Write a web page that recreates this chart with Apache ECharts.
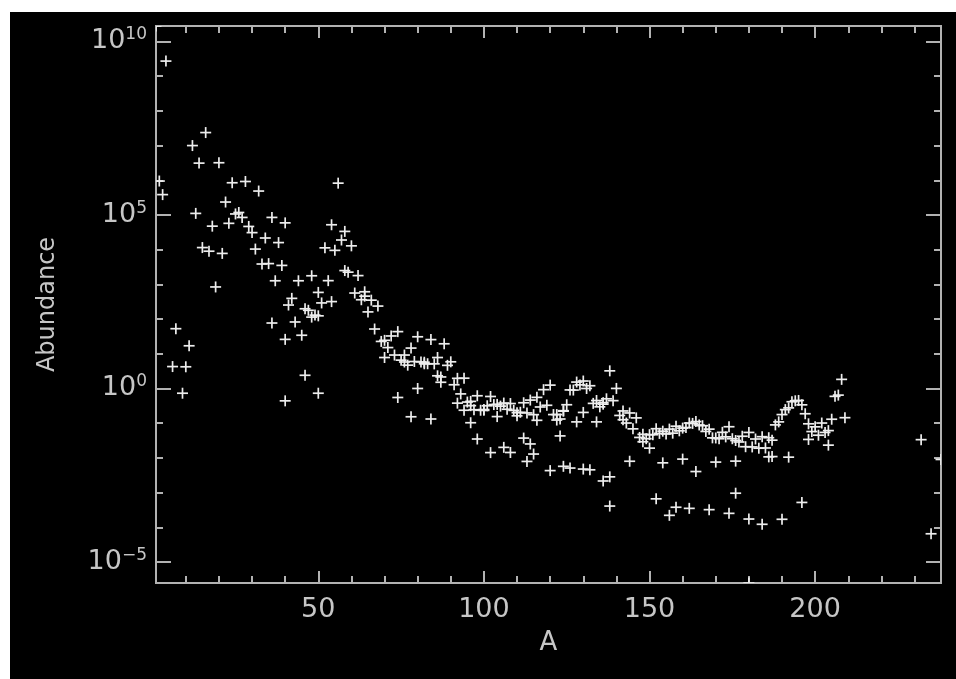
<!DOCTYPE html>
<html>
<head>
<meta charset="utf-8">
<title>Solar system isotopic abundances</title>
<script src="https://cdn.jsdelivr.net/npm/echarts@6/dist/echarts.min.js"></script>
<style>
  html, body { margin: 0; padding: 0; width: 956px; height: 679px; background: #ffffff; overflow: hidden; }
  #chart { position: absolute; left: 10px; top: 12px; width: 946px; height: 667px; background: #000000; }
</style>
</head>
<body>
<div id="chart"></div>
<script>
// Isotopic abundances (normalised to Si = 1e6) against mass number A.

// H .. Ni
const massLight = [
  1, 2, 3, 4, 6, 7, 9, 10, 11, 12, 13, 14, 15, 16, 17, 18, 19, 20, 21, 22,
  23, 24, 25, 26, 27, 28, 29, 30, 31, 32, 33, 34, 36, 35, 37, 36, 38, 40,
  39, 40, 41, 40, 42, 43, 44, 46, 48, 45, 46, 47, 48, 49, 50, 50, 51,
  50, 52, 53, 54, 55, 54, 56, 57, 58, 59, 58, 60, 61, 62, 64
];
const abundLight = [
  2.79e10, 9.5e5, 3.86e5, 2.72e9, 4.28, 52.8, 0.73, 4.22, 17.0, 1.0e7, 1.11e5, 3.12e6, 1.15e4, 2.37e7, 9.04e3, 4.76e4, 843, 3.2e6, 7.8e3, 2.36e5,
  5.74e4, 8.48e5, 1.07e5, 1.18e5, 8.49e4, 9.22e5, 4.67e4, 3.1e4, 1.04e4, 4.89e5, 3.86e3, 2.17e4, 77, 3.97e3, 1.27e3, 8.5e4, 1.6e4, 26,
  3.52e3, 0.44, 254, 5.92e4, 395, 82.5, 1.27e3, 2.4, 114, 34.2, 198, 179, 1.77e3, 130, 124, 0.73, 292,
  587, 1.13e4, 1.28e3, 319, 9.55e3, 5.22e4, 8.26e5, 1.9e4, 2.5e3, 2.25e3, 3.36e4, 1.29e4, 563, 1.79e3, 458
];

// Cu .. Xe
const massMiddle = [
  63, 65, 64, 66, 67, 68, 70, 69, 71, 70, 72, 73, 74, 76, 75,
  74, 76, 77, 78, 80, 82, 79, 81, 78, 80, 82, 83, 84, 86, 85, 87,
  84, 86, 87, 88, 89, 90, 91, 92, 94, 96, 93,
  92, 94, 95, 96, 97, 98, 100, 96, 98, 99, 100, 101, 102, 104, 103,
  102, 104, 105, 106, 108, 110, 107, 109,
  106, 108, 110, 111, 112, 113, 114, 116, 113, 115,
  112, 114, 115, 116, 117, 118, 119, 120, 122, 124, 121, 123,
  120, 122, 123, 124, 125, 126, 128, 130, 127,
  124, 126, 128, 129, 130, 131, 132, 134, 136
];
const abundMiddle = [
  361, 161, 612, 351, 51.7, 237, 7.8, 22.7, 15.1, 24.4, 32.6, 9.2, 43.5, 9.2, 6.56,
  0.55, 5.8, 4.7, 14.6, 30.9, 5.7, 5.98, 5.82, 0.153, 1.0, 5.15, 5.16, 25.6, 7.8, 5.12, 2.15,
  0.132, 2.32, 1.51, 19.4, 4.64, 5.87, 1.28, 1.96, 1.98, 0.32, 0.698,
  0.378, 0.236, 0.406, 0.425, 0.244, 0.617, 0.247, 0.103, 0.035, 0.236, 0.234, 0.317, 0.588, 0.348, 0.344,
  0.0142, 0.155, 0.310, 0.380, 0.368, 0.163, 0.252, 0.234,
  0.0201, 0.0143, 0.201, 0.206, 0.388, 0.197, 0.463, 0.121, 0.0079, 0.176,
  0.0372, 0.0252, 0.0129, 0.555, 0.293, 0.925, 0.328, 1.25, 0.177, 0.222, 0.177, 0.132,
  0.0043, 0.123, 0.043, 0.229, 0.34, 0.909, 1.53, 1.64, 0.90,
  0.00571, 0.00509, 0.109, 1.27, 0.204, 1.0, 1.2, 0.45, 0.39
];

// Cs .. U
const massHeavy = [
  133, 130, 132, 134, 135, 136, 137, 138, 138, 139, 136, 138, 140, 142, 141,
  142, 143, 144, 145, 146, 148, 150, 144, 147, 148, 149, 150, 152, 154, 151, 153,
  152, 154, 155, 156, 157, 158, 160, 159, 156, 158, 160, 161, 162, 163, 164, 165,
  162, 164, 166, 167, 168, 170, 169, 168, 170, 171, 172, 173, 174, 176, 175, 176,
  174, 176, 177, 178, 179, 180, 180, 181, 180, 182, 183, 184, 186, 185, 187,
  184, 186, 187, 188, 189, 190, 192, 191, 193, 190, 192, 194, 195, 196, 198, 197,
  196, 198, 199, 200, 201, 202, 204, 203, 205, 204, 206, 207, 208, 209,
  232, 235, 238
];
const abundHeavy = [
  0.372, 0.00476, 0.00453, 0.109, 0.296, 0.353, 0.504, 3.22, 0.000409, 0.446, 0.00216, 0.00284, 1.003, 0.126, 0.167,
  0.225, 0.101, 0.197, 0.0686, 0.142, 0.0477, 0.0467, 0.0080, 0.0388, 0.0291, 0.0357, 0.0191, 0.0692, 0.0589, 0.0465, 0.0508,
  0.00066, 0.00719, 0.0488, 0.0675, 0.0516, 0.0819, 0.0721, 0.0603, 0.000221, 0.000378, 0.00922, 0.0748, 0.101, 0.0984, 0.111, 0.0889,
  0.000351, 0.00404, 0.0846, 0.0578, 0.0674, 0.0375, 0.0378, 0.000322, 0.00757, 0.0356, 0.0545, 0.0403, 0.0790, 0.0317, 0.0357, 0.00096,
  0.000252, 0.00807, 0.0287, 0.0420, 0.0210, 0.0541, 2.48e-6, 0.0207, 0.000173, 0.0350, 0.0190, 0.0408, 0.0381, 0.0193, 0.0324,
  0.000122, 0.0107, 0.0109, 0.0893, 0.109, 0.177, 0.276, 0.246, 0.415, 0.000170, 0.0105, 0.441, 0.452, 0.338, 0.0959, 0.187,
  0.00052, 0.0340, 0.0574, 0.0785, 0.0450, 0.101, 0.0233, 0.0542, 0.130, 0.0611, 0.593, 0.644, 1.83, 0.144,
  0.0335, 0.000065, 0.0090
];

// Axis ticks and labels
const xRange = [1, 238];
const yRange = [2.48e-6, 2.79e10];
const xMajorTicks = [50, 100, 150, 200];
const xMinorTicks = [10, 20, 30, 40, 60, 70, 80, 90, 110, 120, 130, 140, 160, 170, 180, 190, 210, 220, 230];
const yMajorTicks = [1e-5, 1, 1e5, 1e10];
const yMajorExponents = ['\u22125', '0', '5', '10'];
const yMinorTicks = [1e-4, 1e-3, 1e-2, 1e-1, 10, 100, 1e3, 1e4, 1e6, 1e7, 1e8, 1e9];

const AXIS_COLOR = '#b2b2b2';
const TEXT_COLOR = '#c6c6c6';
const MARK_COLOR = '#ededed';
const FONT = 'DejaVu Sans';

const points = []
  .concat(massLight.map((a, i) => [a, abundLight[i]]))
  .concat(massMiddle.map((a, i) => [a, abundMiddle[i]]))
  .concat(massHeavy.map((a, i) => [a, abundHeavy[i]]));

function tickOnly(base, values, length) {
  return Object.assign({
    min: base.min, max: base.max,
    axisLine: { show: false },
    splitLine: { show: false },
    axisLabel: { show: false },
    axisTick: { show: true, inside: true, length: length, customValues: values,
                lineStyle: { color: AXIS_COLOR, width: 2 } }
  }, base);
}

const xBase = { type: 'value', min: xRange[0], max: xRange[1] };
const yBase = { type: 'log', logBase: 10, min: yRange[0], max: yRange[1] };

const chart = echarts.init(document.getElementById('chart'), null, { renderer: 'canvas' });

chart.setOption({
  backgroundColor: '#000000',
  animation: false,
  grid: {
    left: 146, top: 14, right: 15, bottom: 96,
    show: true, borderColor: AXIS_COLOR, borderWidth: 2,
    backgroundColor: 'transparent',
    outerBoundsMode: 'none'
  },
  xAxis: [
    Object.assign(tickOnly(xBase, xMajorTicks, 12), {
      position: 'bottom',
      name: 'A', nameLocation: 'middle', nameGap: 47,
      nameTextStyle: { color: TEXT_COLOR, fontSize: 26, fontFamily: FONT },
      axisLabel: {
        show: true, customValues: xMajorTicks, margin: 13,
        color: TEXT_COLOR, fontSize: 27, fontFamily: FONT,
        formatter: v => String(v)
      }
    }),
    Object.assign(tickOnly(xBase, xMinorTicks, 7), { position: 'bottom' }),
    Object.assign(tickOnly(xBase, xMajorTicks, 12), { position: 'top' }),
    Object.assign(tickOnly(xBase, xMinorTicks, 7), { position: 'top' })
  ],
  yAxis: [
    Object.assign(tickOnly(yBase, yMajorTicks, 15), {
      position: 'left',
      name: 'Abundance', nameLocation: 'middle', nameGap: 96, nameRotate: 90,
      nameTextStyle: { color: TEXT_COLOR, fontSize: 24, fontFamily: FONT },
      axisLabel: {
        show: true, customValues: yMajorTicks, margin: 9,
        color: TEXT_COLOR, fontFamily: FONT,
        formatter: v => {
          const i = yMajorTicks.findIndex(t => Math.abs(Math.log10(t) - Math.log10(v)) < 1e-6);
          return '{b|10}{s|' + (i >= 0 ? yMajorExponents[i] : '') + '}';
        },
        rich: {
          b: { fontSize: 27, lineHeight: 30, color: TEXT_COLOR, fontFamily: FONT },
          s: { fontSize: 17, lineHeight: 14, verticalAlign: 'top', color: TEXT_COLOR, fontFamily: FONT }
        }
      }
    }),
    Object.assign(tickOnly(yBase, yMinorTicks, 7), { position: 'left' }),
    Object.assign(tickOnly(yBase, yMajorTicks, 15), { position: 'right' }),
    Object.assign(tickOnly(yBase, yMinorTicks, 7), { position: 'right' })
  ],
  series: [{
    type: 'custom',
    coordinateSystem: 'cartesian2d',
    xAxisIndex: 0, yAxisIndex: 0,
    clip: true,
    data: points,
    renderItem: (params, api) => {
      const p = api.coord([api.value(0), api.value(1)]);
      const r = 5.5;
      const st = { stroke: MARK_COLOR, lineWidth: 1.7 };
      return {
        type: 'group',
        children: [
          { type: 'line', shape: { x1: p[0] - r, y1: p[1], x2: p[0] + r, y2: p[1] }, style: st },
          { type: 'line', shape: { x1: p[0], y1: p[1] - r, x2: p[0], y2: p[1] + r }, style: st }
        ]
      };
    }
  }]
});
</script>
</body>
</html>
